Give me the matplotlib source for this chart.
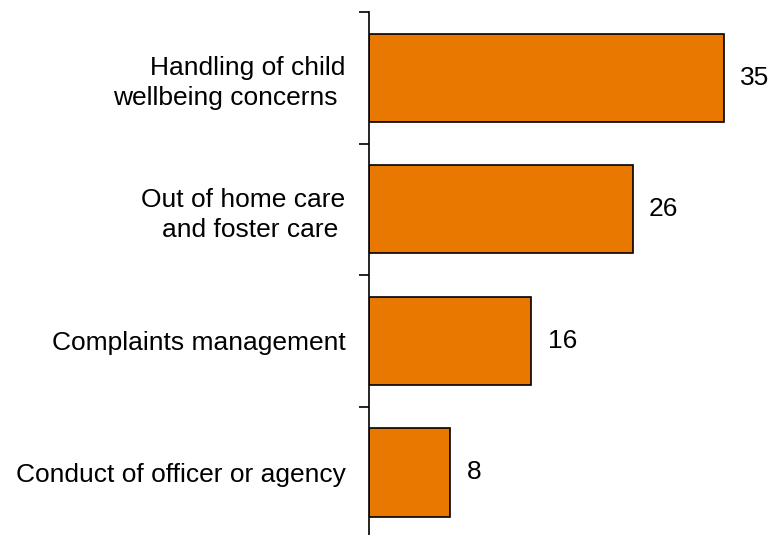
import matplotlib.pyplot as plt
import numpy as np

plt.rcParams['font.family'] = ['Liberation Sans', 'DejaVu Sans']

categories = ['Handling of child\nwellbeing concerns ',
              'Out of home care\nand foster care ',
              'Complaints management',
              'Conduct of officer or agency']
counts = [35, 26, 16, 8]

fig = plt.figure(figsize=(7.73, 5.35), dpi=100)
ax = fig.add_axes([0.4774, -0.006, 0.525, 0.9836])

y = np.arange(len(categories))
ax.barh(y, counts, height=0.67, color='#E87800', edgecolor='black', linewidth=1.2)
for yi, v in zip(y, counts):
    ax.text(v + 1.6, yi, str(v), va='center', ha='left', fontsize=19)

ax.set_xlim(0, 40)
ax.set_ylim(len(categories) - 0.5, -0.5)

for s in ['top', 'right', 'bottom']:
    ax.spines[s].set_visible(False)
ax.spines['left'].set_linewidth(1.2)
ax.set_xticks([])

# category labels without marks; tick marks sit between bars
ax.set_yticks(y)
ax.set_yticklabels(categories, fontsize=19, ha='right', linespacing=1.3)
ax.tick_params(axis='y', which='major', length=0, pad=17)
ax.set_yticks(np.arange(-0.5, len(categories), 1.0), minor=True)
ax.tick_params(axis='y', which='minor', length=7, width=1.2, direction='out')

fig.savefig('out.png', dpi=100)
